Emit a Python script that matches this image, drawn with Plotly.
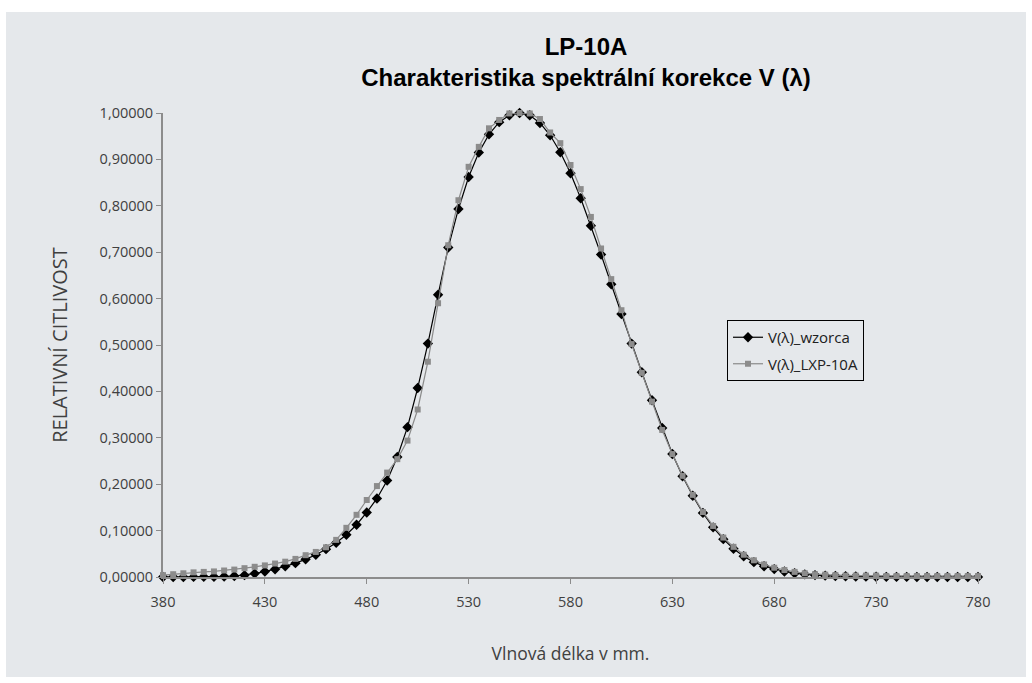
import plotly.graph_objects as go

wavelength = list(range(380, 785, 5))

v_wzorca = [
    0.000039, 0.000064, 0.00012, 0.000217, 0.000396, 0.00064, 0.00121, 0.00218,
    0.004, 0.0073, 0.0116, 0.01684, 0.023, 0.0298, 0.038, 0.048, 0.06, 0.0739,
    0.09098, 0.1126, 0.13902, 0.1693, 0.20802, 0.2586, 0.323, 0.4073, 0.503,
    0.6082, 0.71, 0.7932, 0.862, 0.91485, 0.954, 0.9803, 0.99495, 1.0, 0.995,
    0.9786, 0.952, 0.9154, 0.87, 0.8163, 0.757, 0.6949, 0.631, 0.5668, 0.503,
    0.4412, 0.381, 0.321, 0.265, 0.217, 0.175, 0.1382, 0.107, 0.0816, 0.061,
    0.04458, 0.032, 0.0232, 0.017, 0.01192, 0.00821, 0.005723, 0.004102,
    0.002929, 0.002091, 0.001484, 0.001047, 0.00074, 0.00052, 0.000361,
    0.000249, 0.000172, 0.00012, 0.0000848, 0.00006, 0.0000424, 0.00003,
    0.0000212, 0.000015,
]

v_lxp10a = [
    0.004, 0.006, 0.008, 0.010, 0.011, 0.012, 0.014, 0.016,
    0.019, 0.022, 0.025, 0.029, 0.033, 0.039, 0.047, 0.054, 0.064, 0.080,
    0.106, 0.134, 0.166, 0.196, 0.225, 0.254, 0.294, 0.361, 0.464,
    0.590, 0.715, 0.812, 0.884, 0.927, 0.967, 0.985, 0.999, 1.0, 0.999,
    0.987, 0.958, 0.935, 0.888, 0.836, 0.776, 0.708, 0.642, 0.575, 0.502,
    0.440, 0.378, 0.317, 0.265, 0.218, 0.177, 0.140, 0.110, 0.085, 0.065,
    0.048, 0.036, 0.027, 0.020, 0.015, 0.011, 0.008, 0.006,
    0.005, 0.004, 0.003, 0.003, 0.003, 0.003, 0.002,
    0.002, 0.002, 0.002, 0.002, 0.002, 0.002, 0.002,
    0.002, 0.002,
]

x_ticks = list(range(380, 781, 50))
y_ticks = [0.0, 0.1, 0.2, 0.3, 0.4, 0.5, 0.6, 0.7, 0.8, 0.9, 1.0]

TFONT = "Liberation Sans, Arial, sans-serif"
FONT = "Open Sans, Liberation Sans, sans-serif"
BG = "#e5e8eb"
AXIS = "#8c8c8c"
TXT = "#404040"

fig = go.Figure()
fig.add_trace(go.Scatter(
    x=wavelength, y=v_wzorca, name="V(λ)_wzorca", mode="lines+markers",
    legendgroup="a",
    line=dict(color="#000000", width=1.2),
    marker=dict(symbol="diamond", size=8, color="#000000"),
    cliponaxis=False,
))
fig.add_trace(go.Scatter(
    x=wavelength, y=v_lxp10a, name="V(λ)_LXP-10A", mode="lines+markers",
    legendgroup="b",
    line=dict(color="#8a8a8a", width=1.2),
    marker=dict(symbol="square", size=6, color="#8c8c8c"),
    cliponaxis=False,
))

W, H = 1032, 683
L, R, T, B = 163, 54, 113, 106
pw, ph = W - L - R, H - T - B

def px2x(px):
    return (px - L) / pw

def py2y(py):
    return (H - B - py) / ph

fig.add_shape(type="rect", xref="paper", yref="paper",
              x0=px2x(6), x1=px2x(1026), y0=py2y(677), y1=py2y(12),
              fillcolor=BG, line=dict(width=0), layer="below")

fig.update_layout(
    width=W, height=H,
    margin=dict(l=L, r=R, t=T, b=B),
    paper_bgcolor="#ffffff",
    plot_bgcolor=BG,
    separators=", ",
    font=dict(family=FONT, color=TXT, size=14),
    title=dict(
        text="<b>LP-10A<br>Charakteristika spektrální korekce V (λ)</b>",
        x=px2x(586), xref="paper", xanchor="center",
        y=1 - 55 / H, yref="container", yanchor="middle",
        font=dict(family=TFONT, size=24, color="#000000"),
    ),
    xaxis=dict(
        range=[380, 780], tickvals=x_ticks, ticktext=[str(v) for v in x_ticks],
        showgrid=False, zeroline=False, showline=True, linecolor=AXIS, linewidth=2,
        ticks="outside", ticklen=5, tickcolor=AXIS, tickwidth=1,
        ticklabelstandoff=6,
        tickfont=dict(size=14.5, color=TXT),
        title=dict(text="Vlnová délka v mm.", standoff=37,
                   font=dict(size=17.5, color=TXT)),
    ),
    yaxis=dict(
        range=[0, 1], tickvals=y_ticks, tickformat=".5f",
        showgrid=False, zeroline=False, showline=True, linecolor=AXIS, linewidth=2,
        ticks="outside", ticklen=5, tickcolor=AXIS, tickwidth=1,
        tickfont=dict(size=14.5, color=TXT),
        title=dict(text="RELATIVNÍ CITLIVOST", standoff=27,
                   font=dict(size=20, color=TXT)),
    ),
    legend=dict(
        x=px2x(727), y=py2y(320), xanchor="left", yanchor="top",
        bgcolor=BG, bordercolor="#000000", borderwidth=1,
        font=dict(size=15, color="#202020"),
        tracegroupgap=4,
    ),
    showlegend=True,
)

fig.write_html("out.html")
